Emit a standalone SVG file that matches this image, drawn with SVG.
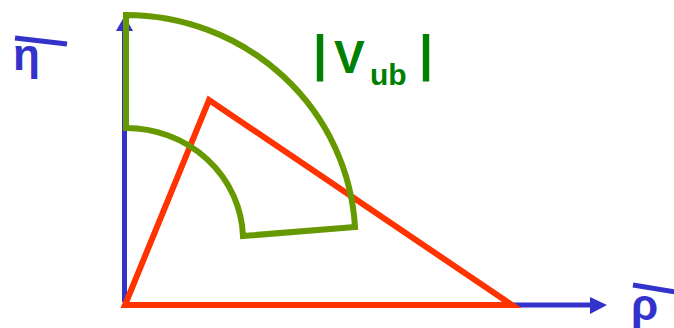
<svg xmlns="http://www.w3.org/2000/svg" width="674" height="328" viewBox="0 0 674 328">
<style>
.ax{stroke:#3333cc;stroke-width:5;fill:none}
.ah{fill:#3333cc}
.lbl{font-family:"Liberation Sans",Arial,sans-serif;fill:#3333cc;font-weight:bold}
.grn{font-family:"Liberation Sans",Arial,sans-serif;fill:#008000;font-weight:bold}
.tri{stroke:#ff3300;stroke-width:6;fill:none;stroke-linejoin:miter}
.sec{stroke:#669900;stroke-width:6;fill:none;stroke-linejoin:miter}
</style>
<g id="axes">
<line class="ax" x1="124.5" y1="302" x2="124.5" y2="28"/>
<polygon class="ah" points="124.5,16 116,31 133,31"/>
<line class="ax" x1="510" y1="305" x2="592" y2="305"/>
<polygon class="ah" points="607,305 590,297 590,314"/>
</g>
<g id="triangle">
<polygon class="tri" points="125,305 209,100 512,305"/>
</g>
<g id="sector">
<path class="sec" d="M126,15 A230,225 0 0 1 355,227 L243,236 A117,112 0 0 0 126,128 Z"/>
</g>
<g id="eta-label">
<line x1="15" y1="38" x2="67" y2="44" stroke="#3333cc" stroke-width="5"/>
<text class="lbl" x="13" y="70" font-size="44">η</text>
</g>
<g id="rho-label">
<line x1="633" y1="285" x2="676" y2="292" stroke="#3333cc" stroke-width="5"/>
<text class="lbl" x="631" y="320" font-size="44">ρ</text>
</g>
<g id="vub-label">
<text class="grn" x="313" y="70" font-size="50" font-weight="normal">|</text>
<text class="grn" x="334" y="73" font-size="46">V</text>
<text class="grn" x="370" y="85" font-size="30">ub</text>
<text class="grn" x="419" y="70" font-size="50" font-weight="normal">|</text>
</g>
</svg>
